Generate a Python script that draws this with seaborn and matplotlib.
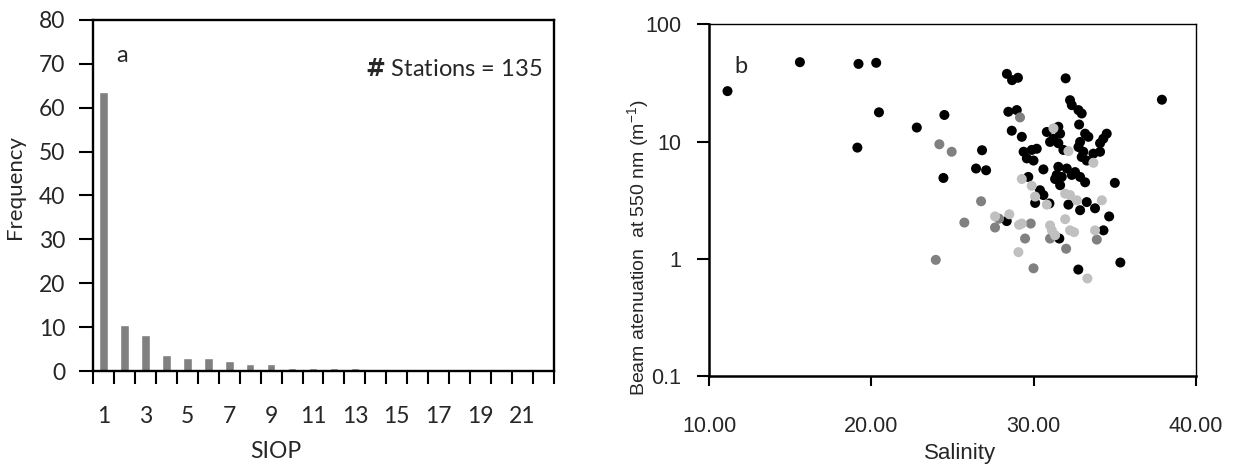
import matplotlib
matplotlib.use("Agg")
import matplotlib.pyplot as plt
import seaborn as sns
import pandas as pd
import numpy as np
from matplotlib.ticker import FixedLocator, NullLocator, FixedFormatter, NullFormatter

# ---------------- data ----------------
siop = list(range(1, 23))
frequency = [63.7, 10.4, 8.1, 3.7, 3.0, 3.0, 2.2, 1.5, 1.5, 0.7, 0.7, 0.7, 0.7,
             0, 0, 0, 0, 0, 0, 0, 0, 0]
siop_tick_labels = ["1", "3", "5", "7", "9", "11", "13", "15", "17", "19", "21"]
freq_ticks = [0, 10, 20, 30, 40, 50, 60, 70, 80]

sal_black = [11.14, 15.60, 19.21, 20.30, 20.47, 19.14, 22.80, 24.50, 26.82, 26.45,
             27.07, 24.44, 37.90, 28.35, 28.67, 29.03, 31.97, 32.24, 32.35, 32.76,
             32.96, 28.44, 28.96, 28.65, 29.27, 30.81, 31.52, 31.63, 31.01, 31.52,
             31.21, 32.80, 33.17, 33.37, 32.86, 32.76, 33.06, 32.96, 33.27, 34.09,
             34.29, 34.50, 33.68, 34.09, 31.83, 29.38, 29.88, 30.19, 29.58, 29.99,
             30.60, 31.52, 32.04, 31.42, 31.73, 32.55, 32.86, 29.67, 32.35, 33.17,
             31.63, 31.32, 30.39, 30.60, 30.09, 30.97, 32.14, 32.86, 33.27, 33.78,
             34.65, 28.34, 31.58, 32.75, 34.30, 35.34, 35.00]
c_black = [27.0, 47.7, 46.1, 47.1, 17.8, 8.9, 13.2, 16.9, 8.45, 5.9,
           5.7, 4.9, 22.8, 37.9, 33.5, 35.1, 34.7, 22.6, 20.5, 18.6,
           17.4, 18.0, 18.6, 12.4, 11.0, 12.1, 13.4, 11.7, 9.95, 9.7,
           10.6, 14.0, 11.7, 11.0, 9.95, 9.0, 8.2, 7.4, 6.9, 9.7,
           10.6, 11.7, 7.9, 8.2, 8.5, 8.2, 8.5, 8.7, 7.2, 6.9,
           5.8, 6.1, 5.9, 5.2, 5.0, 5.5, 5.0, 5.0, 5.2, 4.5,
           4.25, 4.8, 3.85, 3.5, 3.0, 2.97, 2.9, 2.6, 3.05, 2.7,
           2.3, 2.1, 1.49, 0.81, 1.75, 0.93, 4.45]

sal_dgray = [24.19, 24.95, 29.16, 26.76, 25.73, 27.87, 27.62, 23.97, 29.82, 29.47,
             29.99, 31.01, 32.00, 33.89]
c_dgray = [9.5, 8.2, 16.1, 3.1, 2.04, 2.2, 1.85, 0.98, 2.0, 1.49,
           0.83, 1.49, 1.22, 1.46]

sal_lgray = [31.22, 32.14, 33.68, 29.27, 29.88, 30.09, 30.81, 31.94, 32.24, 32.66,
             34.20, 28.50, 27.62, 29.27, 29.10, 29.06, 31.01, 31.12, 31.32, 31.94,
             32.24, 32.49, 33.31, 33.78]
c_lgray = [13.0, 8.3, 6.6, 4.8, 4.2, 3.4, 2.9, 3.6, 3.5, 3.16,
           3.16, 2.4, 2.3, 2.0, 1.95, 1.14, 1.93, 1.75, 1.59, 2.18,
           1.75, 1.69, 0.68, 1.75]

sal_ticks = [10, 20, 30, 40]
sal_tick_labels = ["10.00", "20.00", "30.00", "40.00"]
c_ticks = [0.1, 1, 10, 100]
c_tick_labels = ["0.1", "1", "10", "100"]

# ---------------- style ----------------
sns.set_style("white")
plt.rcParams["font.family"] = ["Lato", "DejaVu Sans"]
plt.rcParams["mathtext.fontset"] = "custom"
plt.rcParams["mathtext.rm"] = "Liberation Sans"
ARIAL = ["Liberation Sans", "DejaVu Sans"]

W, H = 1236, 465
fig = plt.figure(figsize=(W / 100, H / 100), dpi=100)

def axrect(l, t, r, b):
    return [l / W, 1 - b / H, (r - l) / W, (b - t) / H]

ax1 = fig.add_axes(axrect(93, 20, 554, 371))
ax2 = fig.add_axes(axrect(709, 24.5, 1196, 376))

# ---------------- panel a ----------------
df_bar = pd.DataFrame({"SIOP": siop, "Frequency": frequency})
sns.barplot(data=df_bar, x="SIOP", y="Frequency", color="#808080",
            saturation=1, width=0.41, ax=ax1)
ax1.set_xlim(-0.5, len(siop) - 0.5)
ax1.set_ylim(0, 80)
ax1.yaxis.set_major_locator(FixedLocator(freq_ticks))
ax1.xaxis.set_major_locator(FixedLocator(list(range(0, len(siop), 2))))
ax1.xaxis.set_major_formatter(FixedFormatter(siop_tick_labels))
ax1.xaxis.set_minor_locator(FixedLocator(list(np.arange(-0.5, len(siop), 1.0))))
ax1.tick_params(axis="x", which="major", length=0, pad=25, labelsize=16.5)
ax1.tick_params(axis="x", which="minor", length=9, width=1.5, direction="out", color="black")
ax1.tick_params(axis="y", which="major", length=10, width=1.5, direction="out",
                pad=10, labelsize=16.5, color="black", left=True)
ax1.tick_params(axis="x", bottom=True, which="both")
for s in ax1.spines.values():
    s.set_visible(True)
    s.set_color("black")
    s.set_linewidth(1.7)
ax1.set_xlabel("SIOP", fontsize=16.5)
ax1.set_ylabel("Frequency", fontsize=16)
ax1.xaxis.set_label_coords(0.397, -0.2)
ax1.yaxis.set_label_coords(-0.1475, 0.524)
ax1.text(29 / 461, 1 - 35 / 351, "a", transform=ax1.transAxes, fontsize=17,
         ha="center", va="center")
ax1.text(449 / 461, 1 - 49 / 351, r"$\bf{\#}$ Stations = 135", transform=ax1.transAxes,
         fontsize=17, ha="right", va="center")

# ---------------- panel b ----------------
df_sc = pd.DataFrame({
    "Salinity": sal_black + sal_dgray + sal_lgray,
    "c550": c_black + c_dgray + c_lgray,
    "group": ["A"] * len(sal_black) + ["B"] * len(sal_dgray) + ["C"] * len(sal_lgray),
})
sns.scatterplot(data=df_sc, x="Salinity", y="c550", hue="group",
                palette={"A": "#000000", "B": "#808080", "C": "#c0c0c0"},
                s=52, linewidth=0, legend=False, ax=ax2, zorder=3)
ax2.set_yscale("log")
ax2.set_xlim(10, 40)
ax2.set_ylim(0.1, 100)
ax2.xaxis.set_major_locator(FixedLocator(sal_ticks))
ax2.xaxis.set_major_formatter(FixedFormatter(sal_tick_labels))
ax2.yaxis.set_major_locator(FixedLocator(c_ticks))
ax2.yaxis.set_major_formatter(FixedFormatter(c_tick_labels))
ax2.yaxis.set_minor_locator(NullLocator())
ax2.yaxis.set_minor_formatter(NullFormatter())
for lab in ax2.get_xticklabels() + ax2.get_yticklabels():
    lab.set_fontfamily(ARIAL)
ax2.tick_params(axis="x", length=7, width=1.5, direction="out", pad=22,
                labelsize=15.5, color="black", bottom=True)
ax2.tick_params(axis="y", length=9, width=1.5, direction="out", pad=11,
                labelsize=15.5, color="black", left=True)
for name, s in ax2.spines.items():
    s.set_visible(True)
    s.set_color("black")
    s.set_linewidth(1.8 if name in ("left", "bottom") else 1.0)
ax2.set_xlabel("Salinity", fontsize=16, family=ARIAL)
ax2.set_ylabel(r"Beam atenuation  at 550 nm (m$^{\mathregular{-1}}$)", fontsize=14,
               family=ARIAL)
ax2.xaxis.set_label_coords(0.515, -0.19)
ax2.yaxis.set_label_coords(-0.118, 0.364)
ax2.text(32 / 487, 1 - 42 / 351.5, "b", transform=ax2.transAxes, fontsize=17,
         ha="center", va="center")

fig.savefig("out.png", dpi=100)
